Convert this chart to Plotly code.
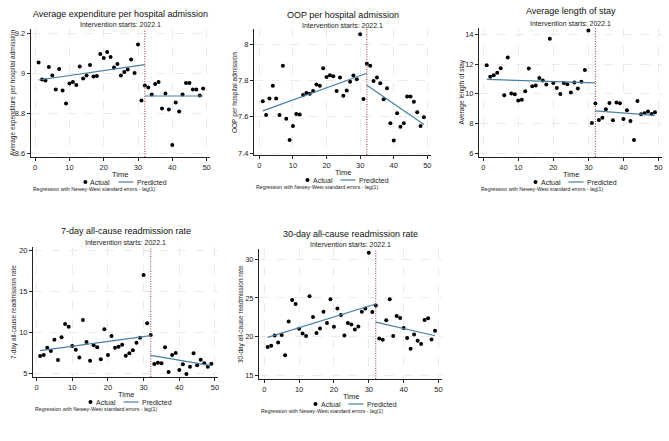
import plotly.graph_objects as go

# donnees (periodes 1 a 49)
temps = list(range(1, 50))

depense = [9.053, 8.967, 8.963, 9.03, 8.988, 8.917, 9.02, 8.913, 8.847, 8.948,
           8.955, 8.94, 9.032, 8.973, 8.987, 9.04, 8.983, 8.985, 9.095, 9.075,
           9.105, 9.08, 9.028, 9.045, 8.987, 9.005, 9.017, 9.067, 9.0, 9.143,
           8.863, 8.938, 8.928, 8.892, 8.945, 8.955, 8.823, 8.897, 8.817, 8.64,
           8.853, 8.807, 8.893, 8.95, 8.95, 8.918, 8.918, 8.887, 8.923]

oop = [7.686, 7.611, 7.701, 7.771, 7.701, 7.611, 7.881, 7.589, 7.473, 7.55,
       7.616, 7.613, 7.721, 7.732, 7.728, 7.743, 7.778, 7.772, 7.868, 7.82,
       7.829, 7.824, 7.743, 7.817, 7.717, 7.745, 7.793, 7.828, 7.807, 8.055,
       7.699, 7.892, 7.881, 7.798, 7.817, 7.785, 7.697, 7.758, 7.565, 7.47,
       7.62, 7.545, 7.565, 7.712, 7.712, 7.683, 7.626, 7.55, 7.598]

duree = [11.92, 11.15, 11.24, 11.42, 11.71, 9.9, 12.43, 10.01, 9.97, 9.54,
         9.59, 10.17, 11.69, 10.5, 10.55, 11.06, 10.89, 10.62, 13.69, 10.73,
         10.39, 9.99, 10.73, 10.64, 10.08, 10.75, 10.35, 10.8, 11.6, 14.25,
         8.04, 9.34, 8.24, 8.38, 8.96, 9.38, 8.22, 9.41, 9.36, 8.31,
         8.89, 8.17, 6.9, 9.52, 8.62, 8.69, 8.8, 8.64, 8.76]

readm7 = [7.12, 7.24, 8.14, 7.73, 9.12, 6.63, 9.4, 11.03, 10.71, 8.34,
          7.89, 6.95, 11.52, 8.83, 6.55, 8.42, 8.18, 6.71, 10.38, 7.24,
          9.56, 8.14, 8.26, 8.5, 7.16, 7.44, 7.81, 8.75, 9.36, 17.02,
          11.11, 9.69, 6.14, 6.3, 6.22, 8.18, 5.16, 7.24, 7.48, 5.41,
          6.1, 4.92, 5.81, 7.44, 5.98, 6.67, 6.22, 5.81, 6.18]

readm30 = [18.63, 18.8, 20.14, 19.23, 20.19, 17.59, 21.96, 24.73, 24.21, 21.01,
           20.4, 20.06, 25.2, 22.52, 20.45, 21.05, 23.21, 21.74, 24.81, 21.27,
           23.64, 22.78, 20.14, 21.74, 21.57, 20.92, 21.31, 23.21, 23.64, 30.86,
           23.17, 24.03, 19.75, 19.58, 22.09, 24.81, 20.06, 22.65, 22.39, 21.09,
           19.8, 18.41, 20.27, 19.45, 19.02, 22.13, 22.35, 19.62, 20.75]

# valeurs predites (debut, fin) avant et apres l'intervention
t_avant = [1, 32]
t_apres = [32, 49]
pred_depense_avant, pred_depense_apres = [8.965, 9.042], [8.885, 8.885]
pred_oop_avant, pred_oop_apres = [7.633, 7.840], [7.774, 7.558]
pred_duree_avant, pred_duree_apres = [10.97, 10.73], [8.85, 8.55]
pred_r7_avant, pred_r7_apres = [7.77, 9.61], [7.20, 5.94]
pred_r30_avant, pred_r30_apres = [19.88, 24.21], [21.87, 20.10]

debut_intervention = 32

W, H = 669, 441
FONT = "Liberation Sans, Arial, sans-serif"
BLEU = "#4a7fa3"
GRIS = "#222"

panneaux = [
    dict(titre="Average expenditure per hospital admission",
         ylab="Average expenditure per hospital admission",
         y=depense, avant=pred_depense_avant, apres=pred_depense_apres,
         px=(30.7, 210), py=(29, 157), yr=[8.58, 9.22], xr=[-1.3, 51], dt=0.2,
         ty=14, sy=25, ylx=13),
    dict(titre="OOP per hospital admission", ylab="OOP per hospital admission",
         y=oop, avant=pred_oop_avant, apres=pred_oop_apres,
         px=(254, 431), py=(29, 155), yr=[7.39, 8.084], xr=[-1.6, 51.1], dt=0.2,
         ty=15, sy=25.5, ylx=235),
    dict(titre="Average length of stay", ylab="Average length of stay",
         y=duree, avant=pred_duree_avant, apres=pred_duree_apres,
         px=(479, 662), py=(28, 157), yr=[5.75, 14.42], xr=[-1.2, 51], dt=2,
         ty=11, sy=23, ylx=461),
    dict(titre="7-day all-cause readmission rate", ylab="7-day all-cause readmission rate",
         y=readm7, avant=pred_r7_avant, apres=pred_r7_apres,
         px=(33, 218), py=(247, 377), yr=[4.55, 20.45], xr=[-1, 50.85], dt=5,
         ty=231, sy=243, ylx=14),
    dict(titre="30-day all-cause readmission rate", ylab="30-day all-cause readmission rate",
         y=readm30, avant=pred_r30_avant, apres=pred_r30_apres,
         px=(259, 442), py=(249, 379), yr=[14.5, 31.33], xr=[-1.5, 51], dt=5,
         ty=234, sy=244, ylx=241),
]

fig = go.Figure()
annotations = []
shapes = []
layout = {}


def px_x(v):
    return v / W


def px_y(v):
    return 1 - v / H


def texte(txt, x, y, taille, xanchor="center", **kw):
    return dict(text=txt, x=x, y=y, xref="paper", yref="paper", showarrow=False,
                xanchor=xanchor, yanchor="middle",
                font=dict(size=taille, color=kw.pop("color", GRIS)), **kw)


for i, p in enumerate(panneaux, start=1):
    sfx = "" if i == 1 else str(i)
    xa, ya = "x" + sfx, "y" + sfx

    fig.add_trace(go.Scatter(x=temps, y=p["y"], mode="markers", name="Actual",
                             marker=dict(color="black", size=4),
                             xaxis=xa, yaxis=ya))
    fig.add_trace(go.Scatter(x=t_avant, y=p["avant"], mode="lines", name="Predicted",
                             line=dict(color=BLEU, width=1.2), xaxis=xa, yaxis=ya))
    fig.add_trace(go.Scatter(x=t_apres, y=p["apres"], mode="lines", name="Predicted",
                             line=dict(color=BLEU, width=1.2), xaxis=xa, yaxis=ya))

    x0, x1 = px_x(p["px"][0]), px_x(p["px"][1])
    y0, y1 = px_y(p["py"][1]), px_y(p["py"][0])
    cx = (p["px"][0] + p["px"][1]) / 2
    xc = px_x(cx)
    yc = (y0 + y1) / 2
    bas = p["py"][1]

    axe = dict(showline=True, linecolor=GRIS, linewidth=1, ticks="outside",
               ticklen=3, tickcolor=GRIS, showgrid=True, gridcolor="#ebebeb",
               griddash="dash", gridwidth=1, zeroline=False, automargin=False,
               tickfont=dict(size=7.5, color=GRIS))
    layout["xaxis" + sfx] = dict(axe, domain=[x0, x1], range=p["xr"], dtick=10,
                                 tick0=0, anchor=ya)
    layout["yaxis" + sfx] = dict(axe, domain=[y0, y1], range=p["yr"], dtick=p["dt"],
                                 anchor=xa)

    # ligne d'intervention
    shapes.append(dict(type="line", xref=xa, yref=ya + " domain",
                       x0=debut_intervention, x1=debut_intervention, y0=0, y1=1,
                       line=dict(color="#953535", width=1, dash="1px,1.5px")))

    # legende faite a la main (plus compacte que celle de plotly)
    yl = bas + 25
    shapes.append(dict(type="circle", xref="paper", yref="paper",
                       x0=px_x(cx - 37), x1=px_x(cx - 33),
                       y0=px_y(yl + 2), y1=px_y(yl - 2),
                       fillcolor="black", line=dict(width=0)))
    shapes.append(dict(type="line", xref="paper", yref="paper",
                       x0=px_x(cx - 2), x1=px_x(cx + 13), y0=px_y(yl), y1=px_y(yl),
                       line=dict(color=BLEU, width=1.2)))

    annotations += [
        texte(p["titre"], xc, px_y(p["ty"]), 9, color="#111"),
        texte("Intervention starts: 2022.1", xc, px_y(p["sy"]), 7),
        texte(p["ylab"], px_x(p["ylx"]), yc, 6.5, textangle=-90),
        texte("Time", xc, px_y(bas + 17), 7.5),
        texte("Actual", px_x(cx - 32), px_y(yl), 7, xanchor="left"),
        texte("Predicted", px_x(cx + 14.5), px_y(yl), 7, xanchor="left"),
        texte("Regression with Newey-West standard errors - lag(1)",
              x0, px_y(bas + 31.5), 5.2, xanchor="left"),
    ]

fig.update_layout(
    width=W, height=H,
    margin=dict(l=0, r=0, t=0, b=0),
    paper_bgcolor="white", plot_bgcolor="white",
    font=dict(family=FONT),
    showlegend=False,
    annotations=annotations, shapes=shapes,
    **layout,
)

# pas de marge autour de la page, pas de barre d'outils
fig.write_html("out.html", config={"displayModeBar": False},
               post_script="document.body.style.margin = '0';")
